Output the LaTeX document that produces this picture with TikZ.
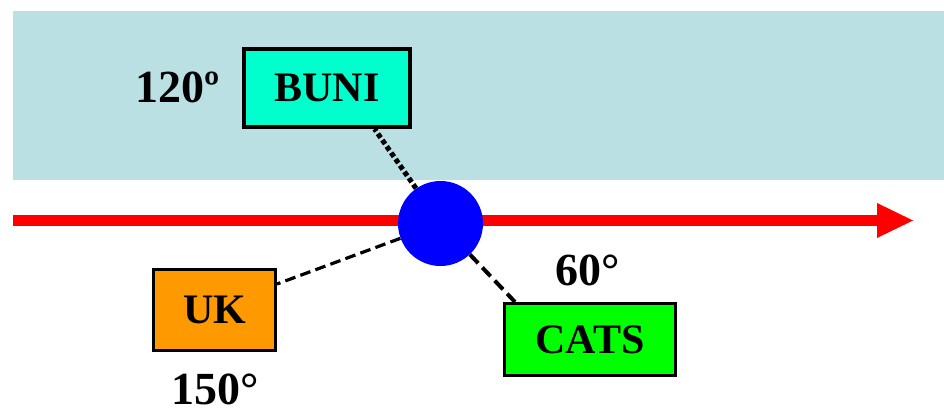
\documentclass[tikz,border=0pt]{standalone}
\usepackage{fontspec}
\setmainfont{Liberation Serif}
\usetikzlibrary{calc}
\definecolor{band}{HTML}{BAE0E3}
\definecolor{bunifill}{HTML}{00FFCC}
\definecolor{ukfill}{HTML}{FF9900}
\definecolor{catsfill}{HTML}{00FF00}
\definecolor{axisred}{HTML}{FF0000}
\definecolor{hub}{HTML}{0000FF}
\begin{document}
\begin{tikzpicture}[x=0.75pt,y=-0.75pt,
  boxlabel/.style={draw=black,font=\fontsize{31.5}{36}\bfseries\selectfont,inner sep=0pt,text depth=0pt},
  anglelabel/.style={font=\fontsize{34.5}{40}\bfseries\selectfont,anchor=base,inner sep=0pt},
  dotline/.style={line width=3.8pt,dash pattern=on 3.6pt off 2.2pt},
  dashline/.style={line width=2.4pt,dash pattern=on 8pt off 4pt},
  dashline2/.style={line width=3pt,dash pattern=on 9pt off 4.5pt}]
\useasboundingbox (0,0) rectangle (944,413);
% shaded upper region
\fill[band] (13,11) rectangle (944,180);
% horizontal axis with arrow head
\fill[axisred] (13,215) rectangle (878,226);
\fill[axisred] (877,203) -- (913,220.5) -- (877,238) -- cycle;
% hub and boxes
\node[circle,fill=hub,minimum size=63.75pt,inner sep=0pt] (c) at (440.5,223.5) {};
\node[boxlabel,fill=bunifill,line width=3pt,minimum width=124.5pt,minimum height=58.5pt] (buni) at (327,88) {BUNI};
\node[boxlabel,fill=ukfill,line width=2.25pt,minimum width=91.5pt,minimum height=60.75pt] (uk) at (214.5,310) {UK};
\node[boxlabel,fill=catsfill,line width=2.25pt,minimum width=128.25pt,minimum height=54pt] (cats) at (590,339.5) {CATS};
% connectors
\draw[dotline] (c) -- ($(buni.south west)!0.78!(buni.south east)$);
\draw[dashline] (c) -- ($(uk.north east)+(0,16)$);
\draw[dashline2] (c) -- ($(cats.north west)+(12,0)$);
% angle labels
\node[anglelabel] (a120) at (178,103) {120º};
\node[anglelabel] (a60) at (588,285) {60°};
\node[anglelabel] (a150) at (215,404) {150°};
\end{tikzpicture}
\end{document}
